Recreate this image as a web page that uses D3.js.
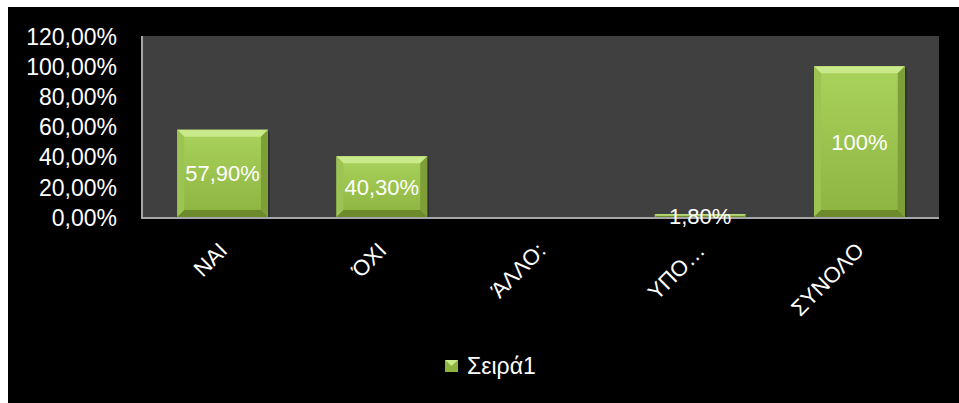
<!DOCTYPE html>
<html>
<head>
<meta charset="utf-8">
<script src="https://cdn.jsdelivr.net/npm/d3@7"></script>
<style>
  html, body { margin: 0; padding: 0; background: #fff; }
  text { font-family: "Liberation Sans", Arial, sans-serif; }
</style>
</head>
<body>
<div id="chart"></div>
<script>
// Chart Data
const categories = ["ΝΑΙ", "ΌΧΙ", "ΆΛΛΟ:", "ΥΠΟ…", "ΣΥΝΟΛΟ"];
const values = [57.9, 40.3, 0, 1.8, 100];
const valueLabels = ["57,90%", "40,30%", "", "1,80%", "100%"];
const yTicks = [0, 20, 40, 60, 80, 100, 120];
const seriesName = "Σειρά1";

// Dimensions For SVG Element
let w = 959, h = 403;
let svg = d3.select("#chart").append("svg").attr("width", w).attr("height", h).style("display", "block");

// Black Chart Background Inside White Frame
svg.append("rect").attr("x", 0).attr("y", 0).attr("width", w).attr("height", h).attr("fill", "#fff");
svg.append("rect").attr("x", 8).attr("y", 7).attr("width", w - 8).attr("height", h - 7).attr("fill", "#000");

// Plot Area
let plotL = 143, plotR = 939, plotT = 36, plotB = 217;
svg.append("rect").attr("x", plotL).attr("y", plotT).attr("width", plotR - plotL).attr("height", plotB - plotT).attr("fill", "#404040");

// Scales
let x = d3.scaleBand().domain(categories).range([plotL, plotR]).paddingInner(0.43).paddingOuter(0.215);
let y = d3.scaleLinear().domain([0, 120]).range([plotB, plotT]);

// Y Axis With Comma Decimal Format
let locale = d3.formatLocale({ decimal: ",", thousands: ".", grouping: [3], currency: ["", "€"] });
let fmt = locale.format(".2f");
let yAxis = svg.append("g").attr("transform", `translate(${plotL},0)`)
  .call(d3.axisLeft(y).tickValues(yTicks).tickSize(0).tickPadding(26).tickFormat(d => fmt(d) + "%"));
yAxis.select(".domain").remove();
yAxis.selectAll("text").attr("fill", "#fff").style("font-size", "23px").style("font-family", "Liberation Sans, Arial, sans-serif").attr("dy", "0.36em");

// Beveled Bars
let colors = { face: "url(#faceGrad)", top: "#c9e98a", left: "#9cc452", right: "#7e9f38", bottom: "#6c8a2b" };
let defs = svg.append("defs");
let grad = defs.append("linearGradient").attr("id", "faceGrad").attr("x1", 0).attr("y1", 0).attr("x2", 0).attr("y2", 1);
grad.append("stop").attr("offset", "0%").attr("stop-color", "#a9d35c");
grad.append("stop").attr("offset", "100%").attr("stop-color", "#8db341");

let bars = svg.append("g");
categories.forEach((c, i) => {
  if (values[i] <= 0) return;
  let x0 = x(c), x1 = x(c) + x.bandwidth(), y0 = y(values[i]), y1 = y(0);
  let b = Math.min(7, (y1 - y0) / 2);
  let g = bars.append("g");
  // Soft shadow
  g.append("rect").attr("x", x0 + 2).attr("y", y0 + 2).attr("width", x1 - x0).attr("height", y1 - y0).attr("fill", "#2a2a2a").attr("opacity", 0.6);
  g.append("rect").attr("x", x0).attr("y", y0).attr("width", x1 - x0).attr("height", y1 - y0).attr("fill", colors.face);
  let poly = (pts, col) => g.append("polygon").attr("points", pts.map(p => p.join(",")).join(" ")).attr("fill", col);
  poly([[x0, y0], [x1, y0], [x1 - b, y0 + b], [x0 + b, y0 + b]], colors.top);
  poly([[x0, y0], [x0 + b, y0 + b], [x0 + b, y1 - b], [x0, y1]], colors.left);
  poly([[x1, y0], [x1 - b, y0 + b], [x1 - b, y1 - b], [x1, y1]], colors.right);
  poly([[x0, y1], [x0 + b, y1 - b], [x1 - b, y1 - b], [x1, y1]], colors.bottom);
});

// Axis Lines
svg.append("line").attr("x1", plotL - 1).attr("x2", plotL - 1).attr("y1", plotT).attr("y2", plotB + 1).attr("stroke", "#a6a6a6").attr("stroke-width", 2);
svg.append("line").attr("x1", plotL - 2).attr("x2", plotR).attr("y1", plotB + 1).attr("y2", plotB + 1).attr("stroke", "#a6a6a6").attr("stroke-width", 2);

// Data Labels Centered In Bars
svg.append("g").selectAll("text").data(categories).enter().append("text")
  .attr("x", d => x(d) + x.bandwidth() / 2)
  .attr("y", (d, i) => (y(values[i]) + y(0)) / 2)
  .attr("dy", "0.36em").attr("text-anchor", "middle")
  .attr("fill", "#fff").style("font-size", "22px")
  .text((d, i) => valueLabels[i]);

// Rotated Category Labels
svg.append("g").selectAll("text").data(categories).enter().append("text")
  .attr("transform", d => `translate(${x(d) + x.bandwidth() / 2 + 6},252) rotate(-45)`)
  .attr("text-anchor", "end").attr("fill", "#fff").style("font-size", "22px")
  .text(d => d);

// Legend
let legend = svg.append("g").attr("transform", "translate(445,360)");
legend.append("rect").attr("width", 13).attr("height", 12).attr("fill", "#8db341");
legend.append("polygon").attr("points", "0,0 13,0 6.5,6").attr("fill", "#c9e98a");
legend.append("text").attr("x", 22).attr("y", 14).attr("fill", "#fff").style("font-size", "23px").text(seriesName);
</script>
</body>
</html>
